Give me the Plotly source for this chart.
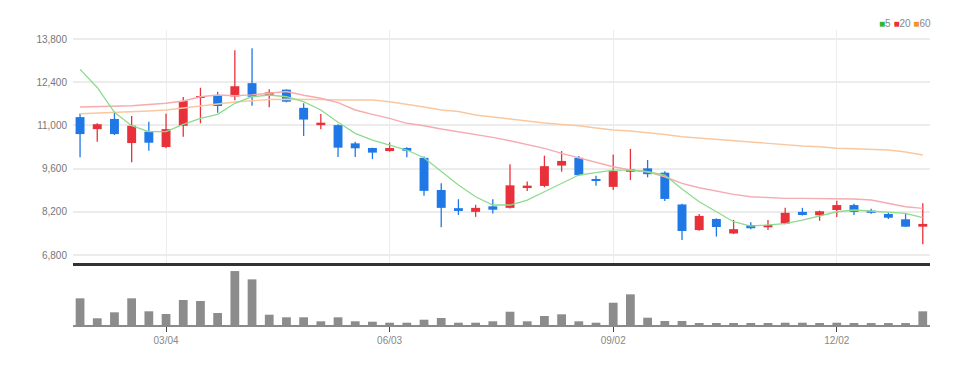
import plotly.graph_objects as go
from plotly.subplots import make_subplots
import pandas as pd

dates = [d.strftime("%Y-%m-%d") for d in pd.date_range("2024-01-29", periods=50, freq="7D")]

open_ = [11270, 10880, 11210, 10430, 10800, 10300, 10990, 11900, 11980, 11940,
         12370, 11990, 12160, 11570, 11010, 11010, 10420, 10270, 10170, 10270,
         9950, 8910, 8320, 8200, 8380, 8330, 9000, 9040, 9700, 9950,
         9260, 9010, 9500, 9610, 9470, 8440, 7610, 7970, 7500, 7770,
         7700, 7820, 8200, 8090, 8260, 8420, 8240, 8130, 7960, 7720]
high = [11390, 11070, 11445, 11305, 11120, 11380, 11920, 12220, 12090, 13440,
        13500, 12170, 12170, 11720, 11370, 11040, 10470, 10280, 10450, 10290,
        9990, 9125, 8610, 8430, 8610, 9740, 9180, 10020, 10170, 10010,
        9370, 10060, 10240, 9880, 9520, 8460, 8130, 7990, 7940, 7860,
        7940, 8330, 8330, 8240, 8560, 8460, 8300, 8170, 8160, 8480]
low = [9970, 10470, 10690, 9805, 10180, 10260, 10630, 11070, 11410, 11820,
       11640, 11590, 11750, 10660, 10880, 9980, 9980, 9910, 10150, 9970,
       8720, 7700, 8100, 8040, 8150, 8310, 8880, 9000, 9500, 9370,
       9050, 8910, 9230, 9320, 8550, 7290, 7590, 7400, 7480, 7640,
       7610, 7800, 8080, 7910, 8030, 8100, 8140, 7970, 7710, 7150]
close = [10720, 11040, 10720, 10990, 10440, 10880, 11790, 11950, 11630, 12270,
         11930, 12070, 11770, 11190, 11090, 10280, 10260, 10120, 10270, 10180,
         8880, 8330, 8230, 8330, 8270, 9060, 9050, 9680, 9850, 9390,
         9210, 9520, 9580, 9420, 8620, 7580, 8070, 7710, 7640, 7670,
         7770, 8170, 8100, 8220, 8420, 8200, 8170, 8010, 7720, 7810]

ma5 = [12818, 12230, 11425, 10991, 10797, 10797, 11036, 11230, 11360, 11717,
       11930, 11986, 11930, 11769, 11500, 11101, 10745, 10528, 10366, 10204,
       9954, 9500, 9070, 8690, 8422, 8422, 8584, 8853, 9125, 9394,
       9468, 9555, 9555, 9500, 9394, 8940, 8528, 8204, 7880, 7741,
       7774, 7816, 7936, 8065, 8204, 8260, 8227, 8172, 8153, 8010]
ma20 = [11597, 11610, 11625, 11640, 11680, 11717, 11791, 11930, 11986, 11960,
        11990, 12050, 12100, 11980, 11880, 11740, 11500, 11360, 11231, 11069,
        10991, 10884, 10797, 10712, 10615, 10505, 10388, 10259, 10097, 9954,
        9825, 9663, 9555, 9500, 9338, 9125, 8982, 8875, 8768, 8690,
        8658, 8638, 8638, 8638, 8638, 8616, 8584, 8477, 8367, 8314]
ma60 = [11380, 11400, 11420, 11435, 11470, 11500, 11565, 11607, 11694, 11759,
        11800, 11840, 11850, 11850, 11840, 11824, 11824, 11824, 11769, 11694,
        11597, 11500, 11451, 11338, 11273, 11192, 11143, 11078, 11030, 10991,
        10916, 10852, 10819, 10770, 10706, 10635, 10592, 10550, 10511, 10473,
        10414, 10366, 10333, 10311, 10259, 10246, 10227, 10204, 10139, 10042]

volume = [267, 67, 127, 267, 137, 110, 250, 240, 120, 540,
          457, 103, 77, 77, 37, 77, 37, 33, 23, 23,
          53, 70, 23, 23, 37, 133, 37, 90, 107, 37,
          23, 223, 307, 73, 40, 40, 20, 20, 20, 20,
          20, 23, 23, 20, 23, 20, 12, 12, 12, 137]

y_ticks = [6800, 8200, 9600, 11000, 12400, 13800]
x_tick_dates = ["2024-03-04", "2024-06-03", "2024-09-02", "2024-12-02"]
x_tick_text = ["03/04", "06/03", "09/02", "12/02"]

RED = "#e8313a"
BLUE = "#1f78e6"
FONT = "Liberation Sans Narrow, Liberation Sans, Arial, sans-serif"

fig = make_subplots(rows=2, cols=1, shared_xaxes=True, vertical_spacing=0.0)

# candle wicks (one trace per colour, None-separated segments)
for up, col in ((True, RED), (False, BLUE)):
    wx, wy = [], []
    for d, o, h, l, c in zip(dates, open_, high, low, close):
        if (c >= o) == up:
            wx += [d, d, None]
            wy += [l, h, None]
    fig.add_trace(go.Scatter(x=wx, y=wy, mode="lines", line=dict(color=col, width=1.3),
                             showlegend=False, hoverinfo="skip", connectgaps=False), row=1, col=1)

# candle bodies
body_base = [min(o, c) for o, c in zip(open_, close)]
body_len = [max(abs(c - o), 40) for o, c in zip(open_, close)]
body_col = [RED if c >= o else BLUE for o, c in zip(open_, close)]
fig.add_trace(go.Bar(x=dates, y=body_len, base=body_base, width=0.52,
                     marker=dict(color=body_col, line=dict(width=0)),
                     showlegend=False, hoverinfo="skip"), row=1, col=1)

fig.add_trace(go.Scatter(x=dates, y=ma60, mode="lines", line=dict(color="#f9c8a0", width=1.4),
                         showlegend=False, hoverinfo="skip"), row=1, col=1)
fig.add_trace(go.Scatter(x=dates, y=ma20, mode="lines", line=dict(color="#f6abae", width=1.4),
                         showlegend=False, hoverinfo="skip"), row=1, col=1)
fig.add_trace(go.Scatter(x=dates, y=ma5, mode="lines", line=dict(color="#8ddb8d", width=1.3),
                         showlegend=False, hoverinfo="skip"), row=1, col=1)

fig.add_trace(go.Bar(x=dates, y=volume, width=0.51, marker=dict(color="#8c8c8c", line=dict(width=0)),
                     showlegend=False, hoverinfo="skip"), row=2, col=1)

xr = [-0.41, 49.42]
fig.update_layout(
    width=975, height=365, autosize=False,
    margin=dict(l=73, r=45, t=30, b=40),
    paper_bgcolor="white", plot_bgcolor="white",
    barmode="overlay",
    font=dict(family=FONT, size=10, color="#777"),
    xaxis=dict(type="category", categoryorder="array", categoryarray=dates, range=xr,
               tickvals=x_tick_dates, showticklabels=False, ticks="",
               showgrid=True, gridcolor="#ededed", gridwidth=1,
               showline=True, linecolor="#333", linewidth=3, zeroline=False),
    xaxis2=dict(type="category", categoryorder="array", categoryarray=dates, range=xr,
                tickvals=x_tick_dates, ticktext=x_tick_text,
                ticks="outside", ticklen=5, tickcolor="#444", tickwidth=1,
                showgrid=False, showline=True, linecolor="#8a8a8a", linewidth=2,
                tickfont=dict(family=FONT, size=10, color="#888"), zeroline=False),
    yaxis=dict(domain=[0.21, 1.0], range=[6542, 14092], tickvals=y_ticks,
               ticktext=[f"{v:,}" for v in y_ticks], showgrid=True, gridcolor="#ececec",
               gridwidth=1.5, zeroline=False, ticks="", ticklabelstandoff=5,
               tickfont=dict(family=FONT, size=10, color="#777")),
    yaxis2=dict(domain=[0.0, 0.193], range=[0, 570], showticklabels=False,
                showgrid=False, zeroline=False, ticks=""),
)

legend_text = (f"<span style='color:#2db82d'>■</span>5 "
               f"<span style='color:{RED}'>■</span>20 "
               f"<span style='color:#f2922f'>■</span>60")
fig.add_annotation(x=1.0, y=1.0, xref="paper", yref="paper", xanchor="right", yanchor="bottom",
                   text=legend_text, showarrow=False, xshift=3, yshift=-1,
                   font=dict(family=FONT, size=10, color="#888"))

fig.write_html("out.html", config={"displayModeBar": False},
               post_script="document.body.style.margin='0';")
